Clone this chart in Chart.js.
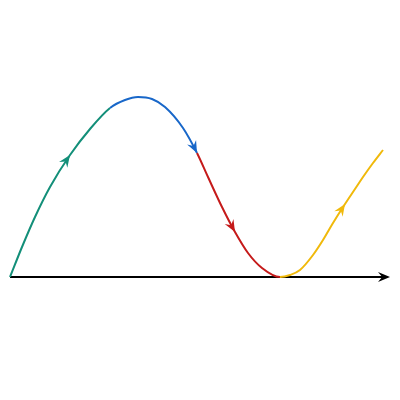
<!DOCTYPE html>
<html>
<head>
<meta charset="utf-8">
<script src="https://cdn.jsdelivr.net/npm/chart.js@4"></script>
<style>
    html, body { margin: 0; padding: 0; background: #ffffff; }
    #wrap { width: 400px; height: 400px; }
</style>
</head>
<body>
<div id="wrap"><canvas id="curveChart"></canvas></div>
<script>
// values (x along the axis, y above it)
var greenX = [0, 12, 25, 40, 60, 80, 100];
var greenY = [0, 30, 60, 90, 122, 148, 169];
var blueX = [100, 115, 128, 142, 155, 173, 187];
var blueY = [169, 177, 180, 178, 170, 149, 124];
var redX = [187, 198, 212, 225, 238, 252, 270];
var redY = [124, 100, 70, 45, 24, 9, 0];
var yellowX = [270, 280, 290, 303, 313, 323, 335, 345, 353, 363, 373];
var yellowY = [0, 2, 7, 22, 37, 54, 73, 88, 100, 114, 127];
var axisEnd = 380;

var pieceColors = ['#138f79', '#1867c9', '#c51a1a', '#f0b90b'];
// which point of each piece carries the arrow head
var arrowAt = [4, 6, 3, 6];

// one continuous curve, coloured piece by piece
var pieces = [[greenX, greenY], [blueX, blueY], [redX, redY], [yellowX, yellowY]];
var points = [];
var pieceOf = [];
var arrowIdx = [];
for (var p = 0; p < pieces.length; p++) {
    var xs = pieces[p][0], ys = pieces[p][1];
    var start = (p === 0) ? 0 : 1;
    var offset = points.length - start;
    for (var i = start; i < xs.length; i++) {
        points.push({x: xs[i], y: ys[i]});
        pieceOf.push(p);
    }
    arrowIdx.push(offset + arrowAt[p]);
}

function arrowHead(ctx, x, y, dx, dy, color, len, wid) {
    var a = Math.atan2(dy, dx);
    ctx.save();
    ctx.translate(x, y);
    ctx.rotate(a);
    ctx.fillStyle = color;
    ctx.beginPath();
    ctx.moveTo(0, 0);
    ctx.lineTo(-len, -wid / 2);
    ctx.lineTo(-len * 0.65, 0);
    ctx.lineTo(-len, wid / 2);
    ctx.closePath();
    ctx.fill();
    ctx.restore();
}

var axisPlugin = {
    id: 'axisLine',
    beforeDatasetsDraw: function(chart) {
        var ctx = chart.ctx;
        var xs = chart.scales.x, ys = chart.scales.y;
        var y0 = ys.getPixelForValue(0);
        var x0 = xs.getPixelForValue(0);
        var x1 = xs.getPixelForValue(axisEnd);
        ctx.save();
        ctx.strokeStyle = '#000000';
        ctx.lineWidth = 2;
        ctx.beginPath();
        ctx.moveTo(x0, y0);
        ctx.lineTo(x1 - 4, y0);
        ctx.stroke();
        ctx.restore();
        arrowHead(ctx, x1, y0, 1, 0, '#000000', 12, 10);
    },
    afterDatasetsDraw: function(chart) {
        var ctx = chart.ctx;
        var meta = chart.getDatasetMeta(0);
        for (var k = 0; k < arrowIdx.length; k++) {
            var el = meta.data[arrowIdx[k]];
            var prev = meta.data[arrowIdx[k] - 1];
            var dx = el.x - (el.cp1x !== undefined ? el.cp1x : prev.x);
            var dy = el.y - (el.cp1y !== undefined ? el.cp1y : prev.y);
            if (dx === 0 && dy === 0) { dx = el.x - prev.x; dy = el.y - prev.y; }
            arrowHead(ctx, el.x, el.y, dx, dy, pieceColors[k], 12, 10);
        }
    }
};

var getCurveChart = document.getElementById("curveChart").getContext('2d');
var curveChart = new Chart(getCurveChart, {
    type: 'line',
    data: {
        datasets: [{
            data: points,
            borderColor: pieceColors[0],
            segment: {
                borderColor: function(c) { return pieceColors[pieceOf[c.p1DataIndex]]; }
            }
        }]
    },
    options: {
        responsive: true,
        maintainAspectRatio: false,
        animation: false,
        layout: {padding: {left: 10, right: 10, top: 0, bottom: 123}},
        elements: {
            line: {borderWidth: 2, cubicInterpolationMode: 'monotone', fill: false},
            point: {radius: 0, hoverRadius: 0}
        },
        datasets: {line: {clip: false}},
        plugins: {legend: {display: false}, tooltip: {enabled: false}},
        scales: {
            x: {type: 'linear', min: 0, max: axisEnd, display: false},
            y: {type: 'linear', min: 0, max: 277, display: false}
        }
    },
    plugins: [axisPlugin]
});
</script>
</body>
</html>
